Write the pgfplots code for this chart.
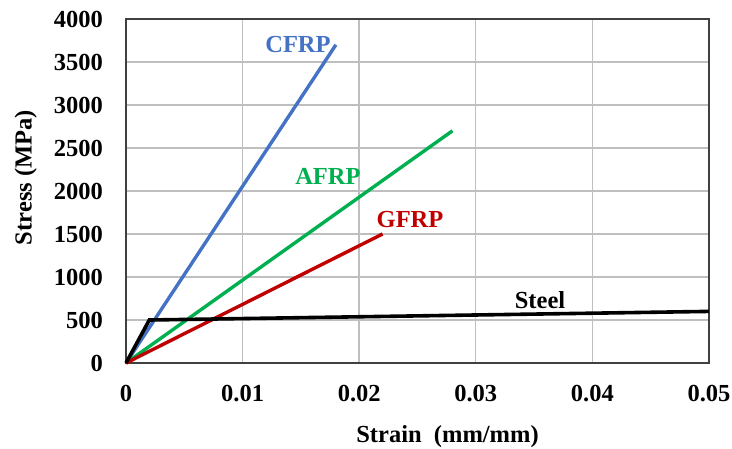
\documentclass[border=0pt]{standalone}
\usepackage{fontspec}
\setmainfont{Liberation Serif}
\usepackage{pgfplots}
\pgfplotsset{compat=1.18}
\definecolor{cfrp}{HTML}{4472C4}
\definecolor{afrp}{HTML}{00B050}
\definecolor{gfrp}{HTML}{C00000}
\definecolor{gridgray}{HTML}{BFBFBF}
\begin{document}
\begin{tikzpicture}
\fontsize{24.5}{28}\selectfont\bfseries
\path[use as bounding box] (-126pt,-85pt) rectangle (606pt,363pt);
\begin{axis}[
  at={(0pt,0pt)}, anchor=origin,
  scale only axis, width=583pt, height=344pt,
  xmin=0, xmax=0.05, ymin=0, ymax=4000,
  scaled x ticks=false, scaled y ticks=false,
  xtick={0,0.01,0.02,0.03,0.04,0.05},
  xticklabels={0,0.01,0.02,0.03,0.04,0.05},
  ytick={0,500,1000,1500,2000,2500,3000,3500,4000},
  yticklabels={0,500,1000,1500,2000,2500,3000,3500,4000},
  major tick length=0pt,
  grid=major,
  major grid style={gridgray, line width=1.4pt},
  axis line style={black!75, line width=1.4pt},
  tick label style={font=\fontsize{24.5}{28}\selectfont\bfseries, inner sep=0pt},
  xticklabel style={anchor=north, yshift=-22pt},
  yticklabel style={anchor=east, xshift=-23pt},
  /pgf/number format/assume math mode=true,
  xlabel={Strain\ \ (mm/mm)},
  ylabel={Stress (MPa)},
  label style={font=\fontsize{24.5}{28}\selectfont\bfseries, inner sep=0pt},
  xlabel style={at={(axis description cs:0.5515,-0.2297)}, anchor=base},
  ylabel style={at={(axis description cs:-0.162,0.539)}, anchor=base},
  clip=false,
]
\addplot[cfrp, line width=3.4pt] coordinates {(0,0) (0.018,3700)};
\addplot[afrp, line width=3.4pt] coordinates {(0,0) (0.028,2700)};
\addplot[gfrp, line width=3.4pt] coordinates {(0,0) (0.022,1500)};
\addplot[black, line width=3.6pt] coordinates {(0,0) (0.002,500) (0.05,600)};
\node[text=cfrp, inner sep=0pt] at (axis cs:0.01475,3698) {CFRP};
\node[text=afrp, inner sep=0pt] at (axis cs:0.01732,2174) {AFRP};
\node[text=gfrp, inner sep=0pt] at (axis cs:0.02436,1663) {GFRP};
\node[text=black, inner sep=0pt] at (axis cs:0.03551,733) {Steel};
\end{axis}
\end{tikzpicture}
\end{document}
